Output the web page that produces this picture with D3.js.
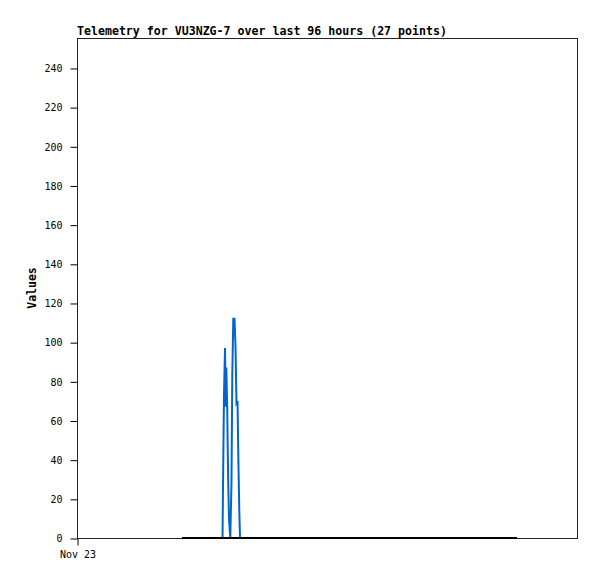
<!DOCTYPE html>
<html>
<head>
<meta charset="utf-8">
<script src="https://cdn.jsdelivr.net/npm/d3@7"></script>
<style>
  body { margin: 0; background: #fff; }
  text { font-family: "DejaVu Sans Mono", monospace; fill: #000; }
</style>
</head>
<body>
<div id="chart"></div>
<script>
// hours since Nov 23 00:00
var blueHours = [20.16, 27.94, 28.03, 28.22, 28.42, 28.55, 28.67, 28.84, 28.92, 29.03, 29.18,
                 29.43, 29.66, 29.82, 30.01, 30.24, 30.43, 30.62, 30.82, 30.97, 31.16, 31.30, 84.48];
var blueValues = [0, 0, 25, 73, 97, 67, 87, 67, 49, 29, 10,
                  0, 28, 84, 112, 112, 98, 69, 70, 42, 14, 0, 0];
var blackHours = [20.16, 84.48];
var blackValues = [0, 0];

var yTicks = [0, 20, 40, 60, 80, 100, 120, 140, 160, 180, 200, 220, 240];
var xTicks = [0];
var xTickLabels = ["Nov 23"];

var svgWidth = 597;
var svgHeight = 579;

var margin = { top: 38, right: 20, bottom: 41, left: 77 };
var width = svgWidth - margin.left - margin.right;
var height = svgHeight - margin.top - margin.bottom;

var svg = d3.select("#chart")
            .append("svg")
                .attr("width", svgWidth)
                .attr("height", svgHeight);

var chartGroup = svg.append("g")
                    .attr("transform", `translate(${margin.left}, ${margin.top})`);

var xScale = d3.scaleLinear().domain([0, 96]).range([0, width]);
var yScale = d3.scaleLinear().domain([0, 255.3]).range([height, 0]);

// frame
chartGroup.append("rect")
    .attr("x", 0.5)
    .attr("y", 0.5)
    .attr("width", width)
    .attr("height", height)
    .attr("fill", "none")
    .attr("stroke", "#222")
    .attr("stroke-width", 1);

var leftAxis = d3.axisLeft(yScale)
    .tickValues(yTicks)
    .tickSize(7)
    .tickPadding(8);

var yAxis = chartGroup.append("g")
    .attr("transform", "translate(0.5, 0.5)")
    .call(leftAxis);
yAxis.select(".domain").remove();
yAxis.selectAll("line").attr("stroke", "#000");
yAxis.selectAll("text")
    .style("font-size", "10px")
    .attr("fill", "#000");

var bottomAxis = d3.axisBottom(xScale)
    .tickValues(xTicks)
    .tickFormat((d, i) => xTickLabels[i])
    .tickSize(7)
    .tickPadding(5);

var xAxis = chartGroup.append("g")
    .attr("transform", `translate(0.5, ${height + 0.5})`)
    .call(bottomAxis);
xAxis.select(".domain").remove();
xAxis.selectAll("line").attr("stroke", "#000");
xAxis.selectAll("text")
    .style("font-size", "10px")
    .attr("fill", "#000");

var line = d3.line()
    .x(d => xScale(d[0]))
    .y(d => yScale(d[1]));

chartGroup.append("path")
    .datum(blueHours.map((h, i) => [h, blueValues[i]]))
    .attr("d", line)
    .attr("fill", "none")
    .attr("stroke", "#0066cc")
    .attr("stroke-width", 2);

chartGroup.append("path")
    .datum(blackHours.map((h, i) => [h, blackValues[i]]))
    .attr("d", line)
    .attr("fill", "none")
    .attr("stroke", "#000")
    .attr("stroke-width", 2);

// title
svg.append("text")
    .attr("x", margin.left)
    .attr("y", 35)
    .style("font-size", "11.6px")
    .style("font-weight", "bold")
    .text("Telemetry for VU3NZG-7 over last 96 hours (27 points)");

// y label
svg.append("text")
    .attr("transform", `translate(36, ${margin.top + height / 2}) rotate(-90)`)
    .attr("text-anchor", "middle")
    .style("font-size", "11.5px")
    .style("font-weight", "bold")
    .text("Values");
</script>
</body>
</html>
